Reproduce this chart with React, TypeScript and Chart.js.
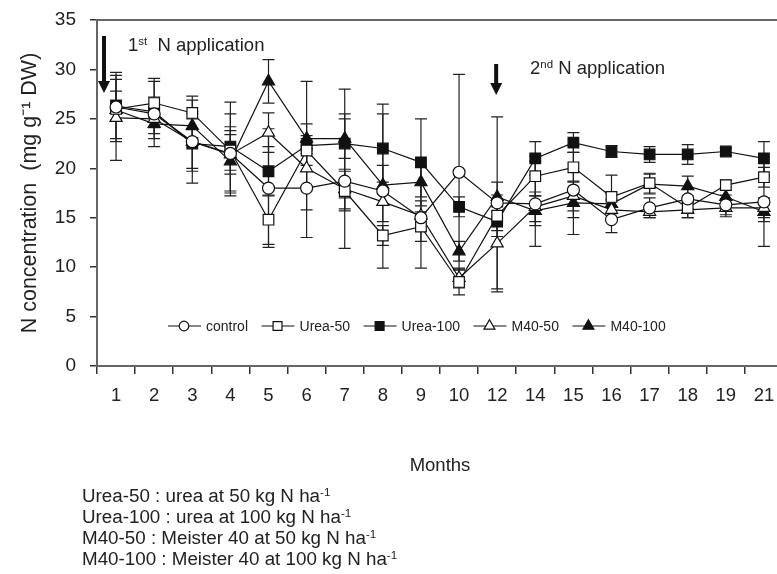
import React, { useEffect, useRef } from "react";
import { Chart, registerables } from "chart.js";

Chart.register(...registerables);

const months = ["1", "2", "3", "4", "5", "6", "7", "8", "9", "10", "12", "14", "15", "16", "17", "18", "19", "21"];

const control = [26.2, 25.5, 22.7, 21.5, 18.0, 18.0, 18.7, 17.7, 15.0, 19.6, 16.5, 16.4, 17.8, 14.8, 16.0, 16.9, 16.3, 16.6];
const controlErr = [3.5, 3.3, 4.2, 4.0, 6.0, 5.0, 6.8, 7.8, 5.1, 9.9, 8.7, 4.3, 4.5, 1.3, 1.0, 1.0, 1.0, 4.5];

const urea50 = [26.0, 26.6, 25.6, 21.8, 14.8, 21.8, 17.7, 13.2, 14.1, 8.5, 15.2, 19.2, 20.1, 17.1, 18.5, 16.0, 18.3, 19.1];
const urea50Err = [3.0, 2.5, 1.7, 2.0, 2.5, 1.5, 2.0, 1.0, 1.5, 1.3, 1.5, 2.0, 1.5, 2.2, 1.0, 1.0, 0.5, 1.0];

const urea100 = [26.3, 25.7, 22.5, 22.2, 19.7, 22.3, 22.5, 22.0, 20.6, 16.1, 14.6, 21.0, 22.6, 21.7, 21.4, 21.4, 21.7, 21.0];
const urea100Err = [1.5, 1.5, 2.5, 4.5, 2.5, 6.5, 5.5, 4.5, 4.4, 1.0, 1.5, 1.7, 1.0, 0.6, 0.8, 1.0, 0.4, 1.7];

const m4050 = [25.1, 25.0, 22.7, 21.4, 23.6, 20.0, 17.9, 16.6, 15.2, 8.9, 12.4, 16.1, 17.2, 15.8, 15.6, 15.8, 16.0, 16.0];
const m4050Err = [4.3, 1.5, 3.0, 2.0, 2.0, 2.0, 2.0, 2.0, 1.5, 1.0, 4.9, 1.5, 1.5, 1.0, 0.6, 0.8, 0.9, 1.0];

const m40100 = [25.9, 24.5, 24.3, 20.7, 28.8, 23.0, 23.0, 18.3, 18.6, 11.6, 17.1, 15.7, 16.5, 16.4, 18.4, 18.2, 17.1, 15.6];
const m40100Err = [1.0, 1.5, 1.2, 3.5, 2.2, 1.5, 2.0, 2.0, 1.5, 1.0, 1.5, 1.5, 1.5, 1.0, 1.0, 1.0, 1.0, 1.0];

const seriesNames = ["control", "Urea-50", "Urea-100", "M40-50", "M40-100"];
const yTicks = { min: 0, max: 35, step: 5 };

const FONT = "'Liberation Sans', Arial, Helvetica, sans-serif";
const INK = "#111";

type Marker = { style: "circle" | "rect" | "triangle"; filled: boolean; r: number };
const markers: Marker[] = [
  { style: "circle", filled: false, r: 6 },
  { style: "rect", filled: false, r: 7.5 },
  { style: "rect", filled: true, r: 7.5 },
  { style: "triangle", filled: false, r: 7 },
  { style: "triangle", filled: true, r: 7 },
];

function drawMarker(ctx: CanvasRenderingContext2D, m: Marker, x: number, y: number, r: number) {
  ctx.save();
  ctx.beginPath();
  if (m.style === "circle") {
    ctx.arc(x, y, r, 0, Math.PI * 2);
  } else if (m.style === "rect") {
    const s = Math.SQRT1_2 * r;
    ctx.rect(x - s, y - s, 2 * s, 2 * s);
  } else {
    let rad = 0;
    ctx.moveTo(x + Math.sin(rad) * r, y - Math.cos(rad) * r);
    rad += (2 * Math.PI) / 3;
    ctx.lineTo(x + Math.sin(rad) * r, y - Math.cos(rad) * r);
    rad += (2 * Math.PI) / 3;
    ctx.lineTo(x + Math.sin(rad) * r, y - Math.cos(rad) * r);
    ctx.closePath();
  }
  ctx.fillStyle = m.filled ? INK : "#fff";
  ctx.fill();
  ctx.lineWidth = 1.2;
  ctx.strokeStyle = INK;
  ctx.stroke();
  ctx.restore();
}

function drawArrow(ctx: CanvasRenderingContext2D, x: number, yTop: number, yTip: number) {
  ctx.save();
  ctx.strokeStyle = INK;
  ctx.fillStyle = INK;
  ctx.lineWidth = 4;
  ctx.beginPath();
  ctx.moveTo(x, yTop);
  ctx.lineTo(x, yTip - 10);
  ctx.stroke();
  ctx.beginPath();
  ctx.moveTo(x - 6, yTip - 12);
  ctx.lineTo(x + 6, yTip - 12);
  ctx.lineTo(x, yTip);
  ctx.closePath();
  ctx.fill();
  ctx.restore();
}

export default function App() {
  const ref = useRef<HTMLCanvasElement>(null);

  useEffect(() => {
    if (!ref.current) return;
    const values = [control, urea50, urea100, m4050, m40100];
    const errs = [controlErr, urea50Err, urea100Err, m4050Err, m40100Err];

    const errPlugin = {
      id: "errbars",
      beforeDatasetsDraw(chart: any) {
        const ctx = chart.ctx as CanvasRenderingContext2D;
        const ys = chart.scales.y;
        ctx.save();
        ctx.strokeStyle = "#222";
        ctx.lineWidth = 1.2;
        chart.data.datasets.forEach((ds: any, i: number) => {
          const meta = chart.getDatasetMeta(i);
          meta.data.forEach((pt: any, j: number) => {
            const v = ds.data[j];
            const e = errs[i][j];
            const yT = ys.getPixelForValue(v + e);
            const yB = ys.getPixelForValue(v - e);
            ctx.beginPath();
            ctx.moveTo(pt.x, yT);
            ctx.lineTo(pt.x, yB);
            ctx.moveTo(pt.x - 6, yT);
            ctx.lineTo(pt.x + 6, yT);
            ctx.moveTo(pt.x - 6, yB);
            ctx.lineTo(pt.x + 6, yB);
            ctx.stroke();
          });
        });
        ctx.restore();
      },
    };

    const decor = {
      id: "decor",
      afterDraw(chart: any) {
        const ctx = chart.ctx as CanvasRenderingContext2D;
        const { left, right, top } = chart.chartArea;
        ctx.save();
        ctx.strokeStyle = "#666";
        ctx.lineWidth = 2;
        ctx.beginPath();
        ctx.moveTo(left, top);
        ctx.lineTo(right, top);
        ctx.stroke();
        ctx.restore();
        drawArrow(ctx, left + 7, 36, 93);
        const x12 = chart.scales.x.getPixelForValue(months.indexOf("12"));
        drawArrow(ctx, x12 - 1, 64, 95);
        const ly = 326;
        let x = 168;
        ctx.save();
        ctx.font = `14px ${FONT}`;
        ctx.textBaseline = "middle";
        seriesNames.forEach((name, i) => {
          ctx.strokeStyle = INK;
          ctx.lineWidth = 1.2;
          ctx.beginPath();
          ctx.moveTo(x, ly);
          ctx.lineTo(x + 33, ly);
          ctx.stroke();
          drawMarker(ctx, markers[i], x + 16, ly, markers[i].style === "circle" ? 4.8 : 6.3);
          ctx.fillStyle = "#222";
          ctx.fillText(name, x + 38, ly + 1);
          x += 38 + ctx.measureText(name).width + 13.5;
        });
        ctx.restore();
      },
    };

    const chart = new Chart(ref.current, {
      type: "line",
      data: {
        labels: months,
        datasets: values.map((vals, i) => ({
          label: seriesNames[i],
          data: vals,
          borderColor: INK,
          borderWidth: 1.2,
          backgroundColor: markers[i].filled ? INK : "#fff",
          pointBackgroundColor: markers[i].filled ? INK : "#fff",
          pointBorderColor: INK,
          pointBorderWidth: 1.2,
          pointStyle: markers[i].style,
          pointRadius: markers[i].r,
          pointHoverRadius: markers[i].r,
          tension: 0,
          fill: false,
        })),
      },
      plugins: [errPlugin, decor],
      options: {
        responsive: false,
        animation: false,
        devicePixelRatio: 1,
        layout: { padding: { left: 0, right: 17, top: 20, bottom: 94 } },
        plugins: {
          legend: { display: false },
          tooltip: { enabled: false },
        },
        scales: {
          x: {
            type: "category",
            offset: true,
            grid: {
              display: true,
              drawOnChartArea: false,
              drawTicks: true,
              tickLength: 8,
              color: "#333",
              lineWidth: 1.5,
              offset: true,
            },
            border: { display: true, color: "#666", width: 2 },
            ticks: { font: { family: FONT, size: 18.5 }, color: "#222", padding: 11, autoSkip: false, maxRotation: 0 },
            title: {
              display: true,
              text: "Months",
              font: { family: FONT, size: 18.5 },
              color: "#222",
              padding: { top: 0, bottom: 3 },
            },
            afterFit: (s: any) => {
              s.height = 114;
              s.paddingLeft = 0;
              s.paddingRight = 0;
            },
          },
          y: {
            min: yTicks.min,
            max: yTicks.max,
            grid: {
              display: true,
              drawOnChartArea: false,
              drawTicks: true,
              tickLength: 7,
              color: "#333",
              lineWidth: 1.5,
            },
            border: { display: true, color: "#666", width: 2 },
            ticks: { stepSize: yTicks.step, font: { family: FONT, size: 19 }, color: "#222", padding: 14 },
            title: {
              display: true,
              text: "N concentration  (mg g\u207B\u00B9 DW)",
              font: { family: FONT, size: 21.5 },
              color: "#222",
              padding: { top: 17, bottom: 0 },
            },
            afterFit: (s: any) => {
              s.width = 97;
              s.paddingTop = 0;
              s.paddingBottom = 0;
            },
          },
        },
      },
    });
    return () => chart.destroy();
  }, []);

  const txt: React.CSSProperties = {
    position: "absolute",
    fontFamily: FONT,
    color: "#222",
    lineHeight: 1,
    whiteSpace: "nowrap",
  };
  const sup: React.CSSProperties = { fontSize: "0.62em", verticalAlign: "0.55em" };
  const foot = [
    ["Urea-50 : urea at 50 kg N ha", 486],
    ["Urea-100 : urea at 100 kg N ha", 507],
    ["M40-50 : Meister 40 at 50 kg N ha", 528],
    ["M40-100 : Meister 40 at 100 kg N ha", 549],
  ] as const;

  return (
    <div style={{ position: "fixed", left: 0, top: 0, width: 777, height: 574, overflow: "hidden", background: "#fff" }}>
      <canvas ref={ref} width={800} height={574} style={{ position: "absolute", left: 0, top: 0, width: 800, height: 574 }} />
      <div style={{ ...txt, left: 128, top: 36, fontSize: 18.5 }}>
        1<span style={sup}>st</span>&nbsp; N application
      </div>
      <div style={{ ...txt, left: 530, top: 59, fontSize: 18.5 }}>
        2<span style={sup}>nd</span> N application
      </div>
      {foot.map(([t, top]) => (
        <div key={t} style={{ ...txt, left: 82, top, fontSize: 18.8 }}>
          {t}
          <span style={sup}>-1</span>
        </div>
      ))}
    </div>
  );
}
